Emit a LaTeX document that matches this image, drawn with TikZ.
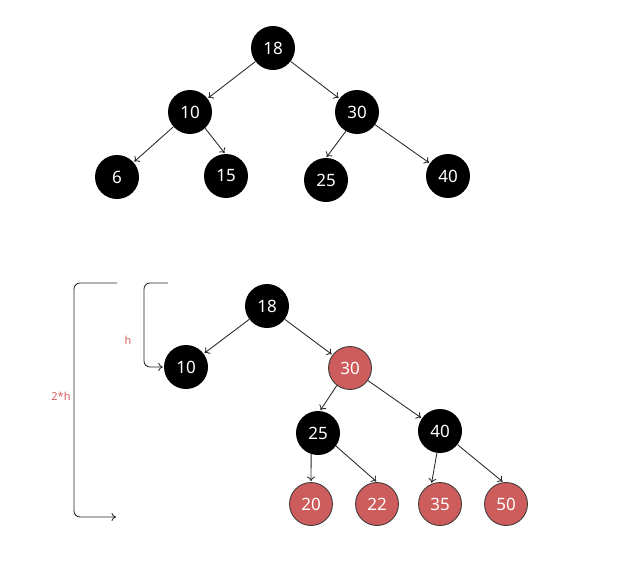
\documentclass[tikz,border=0pt]{standalone}
\usepackage{fontspec}
\setmainfont{Noto Sans}
\usetikzlibrary{arrows.meta}
\definecolor{rbred}{HTML}{CD5C5C}
\definecolor{lbl}{HTML}{D9605A}
\begin{document}
\begin{tikzpicture}[x=1pt,y=-1pt,
  blk/.style={circle,fill=black,minimum size=44pt,inner sep=0pt,text=white,font=\fontsize{17}{20}\selectfont},
  rdn/.style={circle,fill=rbred,draw=black!80,line width=0.8pt,minimum size=43pt,inner sep=0pt,text=white,font=\fontsize{17}{20}\selectfont},
  edge/.style={-{To[length=4.5pt,width=8pt]},draw=black!85,line width=0.85pt,shorten >=1pt},
  lab/.style={text=lbl,font=\fontsize{11}{13}\selectfont}]
\useasboundingbox (0,0) rectangle (639,574);
% top tree
\node[blk] (a18) at (273,48) {18};
\node[blk] (a10) at (190,112) {10};
\node[blk] (a30) at (357,112) {30};
\node[blk] (a6) at (117,177) {6};
\node[blk] (a15) at (226,176) {15};
\node[blk] (a25) at (326,180) {25};
\node[blk] (a40) at (448,176) {40};
\draw[edge] (a18) -- (a10);
\draw[edge] (a18) -- (a30);
\draw[edge] (a10) -- (a6);
\draw[edge] (a10.-47) -- (a15.92);
\draw[edge] (a30.240) -- (a25.90);
\draw[edge] (a30) -- (a40);
% bottom tree
\node[blk] (b18) at (267,306) {18};
\node[blk] (b10) at (186,367) {10};
\node[rdn] (b30) at (350,368) {30};
\node[blk] (b25) at (318,433) {25};
\node[blk] (b40) at (440,431) {40};
\node[rdn] (b20) at (311,504) {20};
\node[rdn] (b22) at (377,504) {22};
\node[rdn] (b35) at (440,504) {35};
\node[rdn] (b50) at (506,504) {50};
\draw[edge] (b18) -- (b10);
\draw[edge] (b18) -- (b30);
\draw[edge] (b30.233) -- (b25.85);
\draw[edge] (b30) -- (b40);
\draw[edge] (b25.252) -- (b20.90);
\draw[edge] (b25.-36) -- (b22.90);
\draw[edge] (b40.262) -- (b35.113);
\draw[edge] (b40.-38) -- (b50.97);
% brackets
\coordinate (o1) at (117,283);
\coordinate (o2) at (117,517);
\coordinate (i1) at (168,283);
\draw[edge,rounded corners=6pt] (o1) -- (74,283) -- (74,517) -- (o2);
\draw[edge,rounded corners=6pt] (i1) -- (144,283) -- (144,367) -- (b10.west);
\node[lab] (hl) at (128,340) {h};
\node[lab] (h2) at (61,396) {2*h};
\end{tikzpicture}
\end{document}
